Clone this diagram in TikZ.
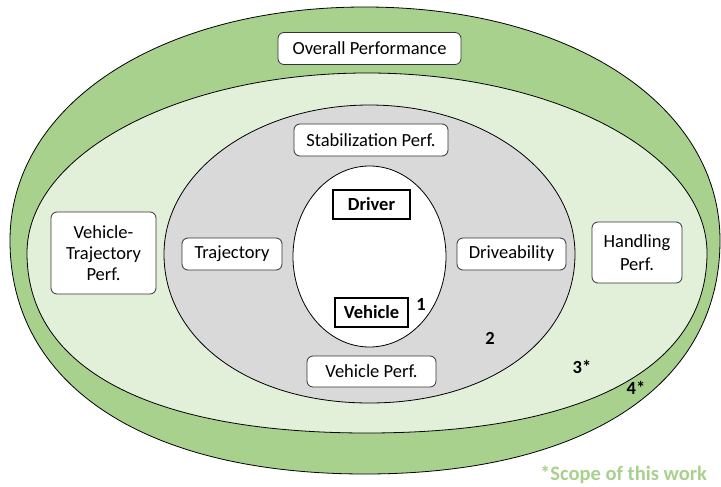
\documentclass[tikz,border=0pt]{standalone}
\usepackage{fontspec}
\setmainfont{Carlito}
\definecolor{gOuter}{HTML}{A9D18E}
\definecolor{gInner}{HTML}{E2F0D9}
\definecolor{gGrey}{HTML}{D9D9D9}
% oval path: cx, cy, rx, ry, k upper, k lower  (y axis points down)
\newcommand\ovalshape[6]{%
  ({#1+#3},{#2})
  .. controls ({#1+#3},{#2-#5*#4}) and ({#1+#5*#3},{#2-#4}) .. ({#1},{#2-#4})
  .. controls ({#1-#5*#3},{#2-#4}) and ({#1-#3},{#2-#5*#4}) .. ({#1-#3},{#2})
  .. controls ({#1-#3},{#2+#6*#4}) and ({#1-#6*#3},{#2+#4}) .. ({#1},{#2+#4})
  .. controls ({#1+#6*#3},{#2+#4}) and ({#1+#3},{#2+#6*#4}) .. ({#1+#3},{#2}) -- cycle}
\begin{document}
\begin{tikzpicture}[x=1pt,y=-1pt,
  ring/.style={draw=black, line width=0.8pt},
  perfbox/.style={draw=black!80, fill=white, rounded corners=6pt, line width=0.8pt,
    font=\fontsize{18.5}{21}\selectfont, inner sep=0pt, align=center},
  corebox/.style={draw=black, fill=white, line width=2pt, inner sep=0pt,
    font=\fontsize{18.5}{21}\selectfont\bfseries},
  numlabel/.style={font=\fontsize{18.5}{21}\selectfont\bfseries, inner sep=0pt}]
\useasboundingbox (0,0) rectangle (721,487);
\fill[white] (0,0) rectangle (721,487);
\draw[ring, fill=gOuter] \ovalshape{365}{240.5}{355}{233.5}{0.58}{0.62};
\draw[ring, fill=gInner] \ovalshape{367}{253}{340}{180}{0.5523}{0.64};
\draw[ring, fill=gGrey] \ovalshape{369.5}{254}{205.5}{149}{0.5523}{0.58};
\draw[ring, fill=white] (369.5,256.5) ellipse [x radius=76.5pt, y radius=90.5pt];

\node[perfbox, minimum width=183pt, minimum height=32pt] (overall) at (369.5,48.5) {Overall Performance};
\node[perfbox, minimum width=154pt, minimum height=32pt] (stab) at (371,140) {Stabilization Perf.};
\node[perfbox, minimum width=100pt, minimum height=32pt] (traj) at (232,254) {Trajectory};
\node[perfbox, minimum width=109pt, minimum height=32pt] (drive) at (511.5,254) {Driveability};
\node[perfbox, minimum width=129pt, minimum height=31pt] (vperf) at (371.5,371.5) {Vehicle Perf.};
\node[perfbox, minimum width=105pt, minimum height=82pt] (vtraj) at (103.5,253) {Vehicle-\\Trajectory\\Perf.};
\node[perfbox, minimum width=90pt, minimum height=61pt, font=\fontsize{18.5}{22.5}\selectfont] (handling) at (637,252.5) {Handling\\Perf.};

\node[corebox, minimum width=77pt, minimum height=29pt] (driver) at (371.5,204.5) {Driver};
\node[corebox, minimum width=73pt, minimum height=29pt] (vehicle) at (371.5,312.5) {Vehicle};

\node[numlabel] (n1) at (421,304) {1};
\node[numlabel] (n2) at (490,338) {2};
\node[numlabel] (n3) at (582,367) {3*};
\node[numlabel] (n4) at (636,388) {4*};
\node[font=\fontsize{20.5}{24}\selectfont\bfseries, text=gOuter, inner sep=0pt] (scope) at (623.5,475) {*Scope of this work};
\end{tikzpicture}
\end{document}
